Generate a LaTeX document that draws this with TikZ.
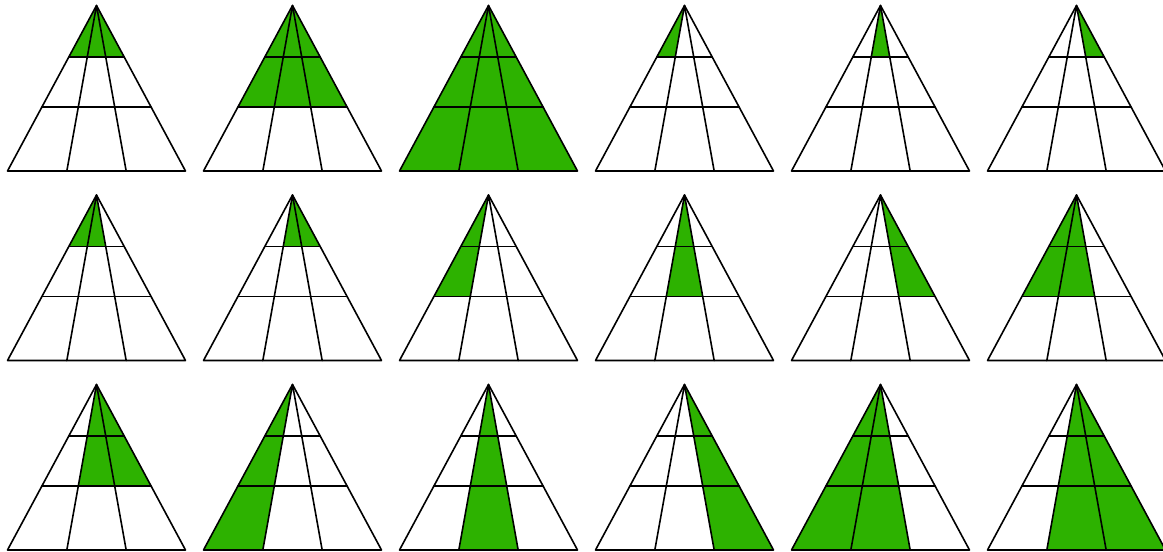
\documentclass[tikz,border=0pt]{standalone}
\usetikzlibrary{calc}
\definecolor{cellgreen}{RGB}{45,178,0}
\tikzset{
  gridline/.style={line width=1.6pt, line join=round, line cap=round},
  cellfill/.style={fill=cellgreen}
}
\def\ta{0.31}
\def\tb{0.613}
% fill from depth #1 to depth #2, between base division #3 and #4
\newcommand{\piece}[4]{%
  \fill[cellfill] ($(A)!#1!(B#3)$) -- ($(A)!#1!(B#4)$) -- ($(A)!#2!(B#4)$) -- ($(A)!#2!(B#3)$) -- cycle;}
\newcommand{\tri}[3]{%
  \begin{scope}[shift={(#1,#2)}]
    \coordinate (A) at (89,0);
    \coordinate (B0) at (0,165.5);
    \coordinate (B1) at (59.33,165.5);
    \coordinate (B2) at (118.67,165.5);
    \coordinate (B3) at (178,165.5);
    #3
    \draw[gridline] (A) -- (B0) -- (B3) -- cycle;
    \draw[gridline] (A) -- (B1) (A) -- (B2);
    \draw[gridline] ($(A)!\ta!(B0)$) -- ($(A)!\ta!(B3)$);
    \draw[gridline] ($(A)!\tb!(B0)$) -- ($(A)!\tb!(B3)$);
  \end{scope}}
\begin{document}
\begin{tikzpicture}[x=1pt,y=-1pt]
\clip (0,0) rectangle (1163,552);
\fill[white] (0,0) rectangle (1163,552);
% row 1
\tri{7.5}{5.5}{\piece{0}{\ta}{0}{3}}
\tri{203.5}{5.5}{\piece{0}{\tb}{0}{3}}
\tri{399.5}{5.5}{\piece{0}{1}{0}{3}}
\tri{595.5}{5.5}{\piece{0}{\ta}{0}{1}}
\tri{791.5}{5.5}{\piece{0}{\ta}{1}{2}}
\tri{987.5}{5.5}{\piece{0}{\ta}{2}{3}}
% row 2
\tri{7.5}{195}{\piece{0}{\ta}{0}{2}}
\tri{203.5}{195}{\piece{0}{\ta}{1}{3}}
\tri{399.5}{195}{\piece{0}{\tb}{0}{1}}
\tri{595.5}{195}{\piece{0}{\tb}{1}{2}}
\tri{791.5}{195}{\piece{0}{\tb}{2}{3}}
\tri{987.5}{195}{\piece{0}{\tb}{0}{2}}
% row 3
\tri{7.5}{384.5}{\piece{0}{\tb}{1}{3}}
\tri{203.5}{384.5}{\piece{0}{1}{0}{1}}
\tri{399.5}{384.5}{\piece{0}{1}{1}{2}}
\tri{595.5}{384.5}{\piece{0}{1}{2}{3}}
\tri{791.5}{384.5}{\piece{0}{1}{0}{2}}
\tri{987.5}{384.5}{\piece{0}{1}{1}{3}}
\end{tikzpicture}
\end{document}
